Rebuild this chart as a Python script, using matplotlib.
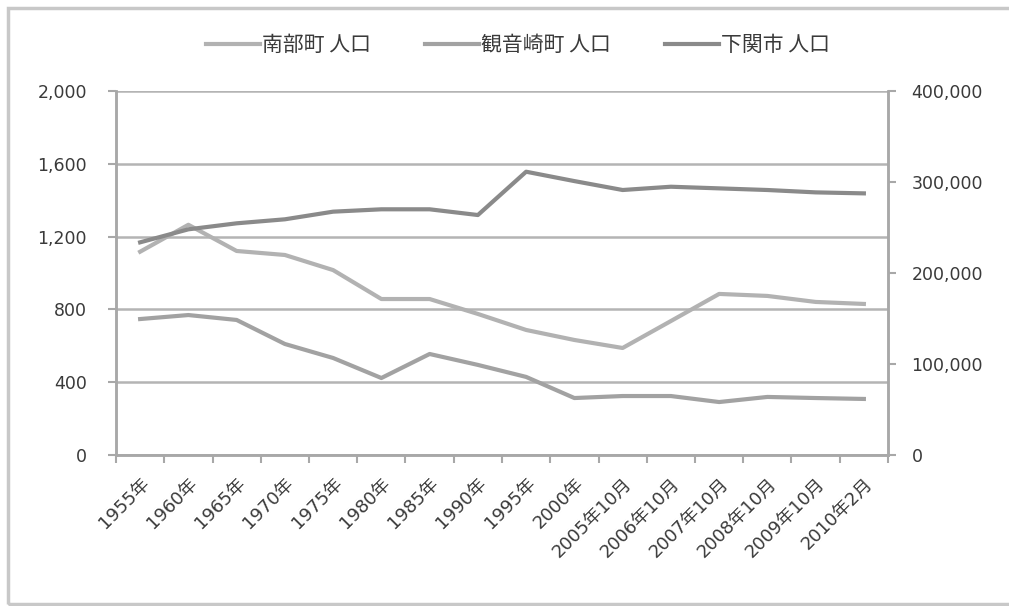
import matplotlib.pyplot as plt
from matplotlib.patches import Rectangle

plt.rcParams['font.family'] = ['DejaVu Sans', 'Noto Sans CJK JP']

# データ
categories = ['1955年', '1960年', '1965年', '1970年', '1975年', '1980年', '1985年',
              '1990年', '1995年', '2000年', '2005年10月', '2006年10月', '2007年10月',
              '2008年10月', '2009年10月', '2010年2月']
nanbu = [1117, 1265, 1121, 1099, 1016, 857, 857, 775, 687, 632, 588, 736, 885, 874, 841, 830]
kannonzaki = [747, 769, 742, 610, 533, 423, 555, 495, 429, 313, 324, 324, 291, 319, 313, 308]
shimonoseki = [233700, 248000, 254600, 259000, 267400, 270000, 270000, 263700, 311300,
               301000, 291200, 294800, 293000, 291200, 288600, 287500]

left_ticks = [0, 400, 800, 1200, 1600, 2000]
right_ticks = [0, 100000, 200000, 300000, 400000]

c_nanbu = '#b2b2b2'
c_kannon = '#a2a2a2'
c_shimo = '#8a8a8a'
axis_c = '#a8a8a8'
text_c = '#3a3a3a'

W, H = 1009, 606
fig = plt.figure(figsize=(W / 100, H / 100), dpi=100)
fig.patches.append(Rectangle((8 / W, 2 / H), 1.1, (604 - 8) / H, transform=fig.transFigure,
                             fill=False, edgecolor='#c8c8c8', linewidth=2.5))

ax = fig.add_axes([116 / W, (H - 455) / H, (888 - 116) / W, (455 - 91) / H])
ax2 = ax.twinx()

x = list(range(len(categories)))
l1, = ax.plot(x, nanbu, color=c_nanbu, linewidth=3, label='南部町 人口')
l2, = ax.plot(x, kannonzaki, color=c_kannon, linewidth=3, label='観音崎町 人口')
l3, = ax2.plot(x, shimonoseki, color=c_shimo, linewidth=3, label='下関市 人口')

ax.set_xlim(-0.5, len(categories) - 0.5)
ax.set_ylim(0, 2000)
ax2.set_ylim(0, 400000)
ax.set_yticks(left_ticks)
ax.set_yticklabels([f'{v:,}' for v in left_ticks])
ax2.set_yticks(right_ticks)
ax2.set_yticklabels([f'{v:,}' for v in right_ticks])

# カテゴリ境界に目盛り、中央にラベル
ax.set_xticks([i - 0.5 for i in range(len(categories) + 1)])
ax.set_xticklabels([])
ax.set_xticks(x, minor=True)
ax.set_xticklabels(categories, minor=True, rotation=45, ha='right',
                   rotation_mode='anchor', fontsize=13, color=text_c)
ax.tick_params(axis='x', which='minor', length=0, pad=14)
ax.tick_params(axis='x', which='major', length=6, width=1.5, color=axis_c, direction='out')
ax.tick_params(axis='y', length=6, width=1.5, color=axis_c, labelsize=12.5,
               labelcolor=text_c, pad=15)
ax2.tick_params(axis='y', length=6, width=1.5, color=axis_c, labelsize=12.5,
                labelcolor=text_c, pad=11)

ax.grid(axis='y', color='#b4b4b4', linewidth=1.8)
ax.set_axisbelow(True)
for a in (ax, ax2):
    a.spines['top'].set_visible(False)
    for s in ('left', 'right', 'bottom'):
        a.spines[s].set_color(axis_c)
        a.spines[s].set_linewidth(1.8)

fig.legend(handles=[l1, l2, l3], loc='center', bbox_to_anchor=(518 / W, 1 - 45 / H),
           ncol=3, frameon=False, handlelength=2.6, handletextpad=0.1,
           columnspacing=2.6, labelcolor=text_c,
           prop={'family': ['Noto Sans CJK JP', 'DejaVu Sans'], 'size': 15})

fig.savefig('out.png', dpi=100)
